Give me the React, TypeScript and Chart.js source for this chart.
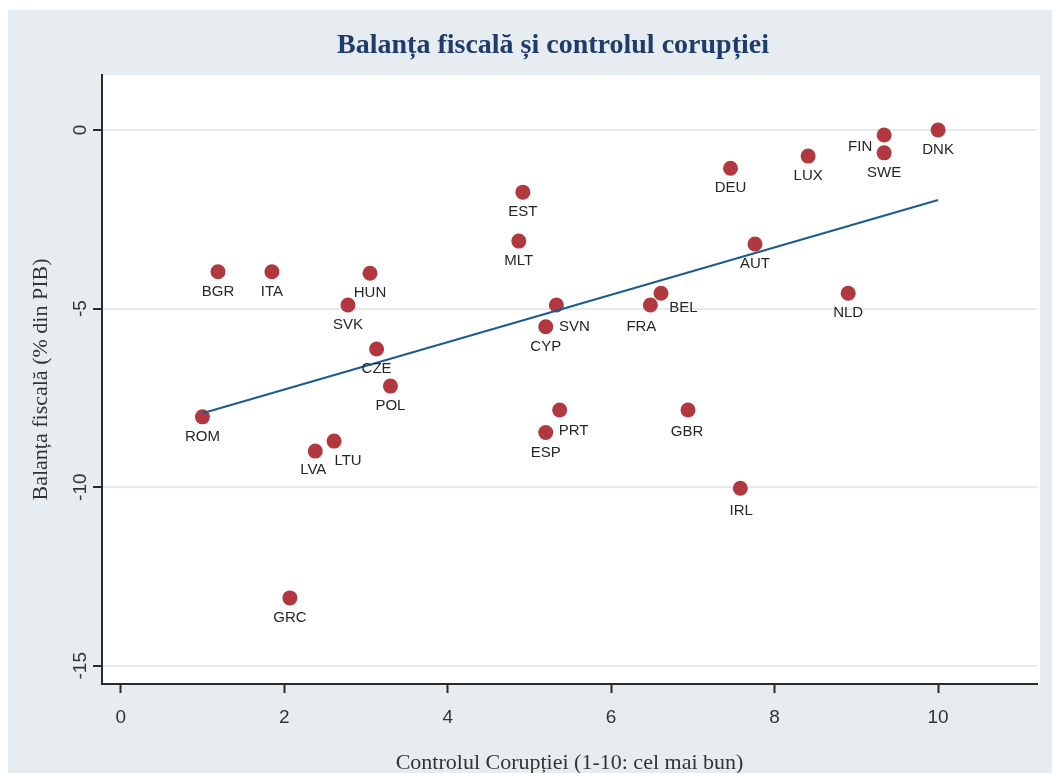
import React, { useEffect, useRef } from "react";
import { Chart, registerables } from "chart.js";

Chart.register(...registerables);

// ---- data ----
const countries = ["BGR", "ITA", "HUN", "SVK", "CZE", "POL", "ROM", "LVA", "LTU", "GRC", "EST", "MLT", "SVN", "CYP", "PRT", "ESP", "FRA", "BEL", "GBR", "IRL", "DEU", "AUT", "LUX", "NLD", "FIN", "SWE", "DNK"];
const corruptionControl = [1.19, 1.85, 3.05, 2.78, 3.13, 3.3, 1.0, 2.38, 2.61, 2.07, 4.92, 4.87, 5.33, 5.2, 5.37, 5.2, 6.48, 6.61, 6.94, 7.58, 7.46, 7.76, 8.41, 8.9, 9.34, 9.34, 10.0];
const fiscalBalance = [-3.97, -3.97, -4.01, -4.9, -6.13, -7.17, -8.03, -8.99, -8.71, -13.1, -1.74, -3.11, -4.9, -5.51, -7.84, -8.47, -4.9, -4.57, -7.84, -10.03, -1.07, -3.19, -0.73, -4.57, -0.14, -0.64, 0.0];
const fitX = [1.0, 10.0];
const fitY = [-7.93, -1.96];
const xTicks = [0, 2, 4, 6, 8, 10];
const yTicks = [0, -5, -10, -15];

const TITLE = "Balanța fiscală și controlul corupției";
const X_TITLE = "Controlul Corupției (1-10: cel mai bun)";
const Y_TITLE = "Balanța fiscală (% din PIB)";

// ---- label placement (style) ----
const DEFAULT_OFFSET: [number, number] = [0, 20];
const labelOffsets: Record<string, [number, number]> = {
  FIN: [-24, 11.5],
  BEL: [22.5, 15],
  SVN: [18, 21.5],
  FRA: [-9, 21.5],
  PRT: [14, 21],
  LTU: [14, 20],
  LVA: [-2, 19],
  IRL: [1, 23],
  GBR: [-1, 22],
};

const BG_GRAY = "#e7ecf0";
const AXIS_DARK = "#2a2a2a";

const plotBackground = {
  id: "plotBackground",
  beforeDraw(chart: any) {
    const { ctx, chartArea } = chart;
    ctx.save();
    ctx.fillStyle = "#ffffff";
    ctx.fillRect(chartArea.left, chartArea.top, chartArea.right - chartArea.left + 3, chartArea.bottom - chartArea.top);
    ctx.restore();
  },
};

const pointLabels = {
  id: "pointLabels",
  afterDatasetsDraw(chart: any) {
    const meta = chart.getDatasetMeta(0);
    const ctx = chart.ctx;
    ctx.save();
    ctx.font = '15px "Liberation Sans", Arial, sans-serif';
    ctx.fillStyle = "#262626";
    ctx.textAlign = "center";
    ctx.textBaseline = "middle";
    meta.data.forEach((el: any, i: number) => {
      const name = countries[i];
      const [dx, dy] = labelOffsets[name] || DEFAULT_OFFSET;
      ctx.fillText(name, el.x + dx, el.y + dy);
    });
    ctx.restore();
  },
};

export default function App() {
  const canvasRef = useRef<HTMLCanvasElement | null>(null);

  useEffect(() => {
    if (!canvasRef.current) return;
    const points = countries.map((_, i) => ({ x: corruptionControl[i], y: fiscalBalance[i] }));
    const fitPoints = fitX.map((x, i) => ({ x, y: fitY[i] }));

    const chart = new Chart(canvasRef.current, {
      type: "scatter",
      data: {
        datasets: [
          {
            type: "scatter",
            label: "Balanța fiscală",
            data: points,
            backgroundColor: "#b0383e",
            borderColor: "#b0383e",
            borderWidth: 0,
            pointRadius: 7.5,
            pointHoverRadius: 7.5,
            order: 1,
          },
          {
            type: "line",
            label: "Fitted values",
            data: fitPoints,
            borderColor: "#1b5b8e",
            borderWidth: 2,
            pointRadius: 0,
            fill: false,
            showLine: true,
            order: 0,
          } as any,
        ],
      },
      options: {
        animation: false,
        responsive: false,
        maintainAspectRatio: false,
        devicePixelRatio: 1,
        layout: { padding: 0 },
        plugins: {
          legend: { display: false },
          tooltip: { enabled: false },
          title: {
            display: true,
            text: TITLE,
            color: "#1f3d6c",
            font: { family: '"Liberation Serif", serif', size: 28, weight: "bold" },
            padding: { top: 19, bottom: 12.4 },
          },
        },
        scales: {
          x: {
            type: "linear",
            min: -0.229,
            max: 11.21,
            afterBuildTicks: (scale: any) => {
              scale.ticks = xTicks.map((v) => ({ value: v }));
            },
            afterFit: (scale: any) => {
              scale.height = 89;
              scale.paddingLeft = 0;
              scale.paddingRight = 61;
            },
            border: { display: true, color: AXIS_DARK, width: 2 },
            grid: {
              drawOnChartArea: false,
              drawTicks: true,
              tickLength: 9,
              tickColor: AXIS_DARK,
              tickWidth: 2,
            },
            ticks: {
              color: "#333333",
              font: { family: '"Liberation Sans", Arial, sans-serif', size: 19 },
              padding: 13,
              maxRotation: 0,
              minRotation: 0,
              callback: (v: any) => String(v),
            },
            title: {
              display: true,
              text: X_TITLE,
              color: "#333333",
              font: { family: '"Liberation Serif", serif', size: 22 },
              padding: { top: 0, bottom: -3 },
            },
          },
          y: {
            type: "linear",
            min: -15.51,
            max: 1.54,
            afterBuildTicks: (scale: any) => {
              scale.ticks = yTicks.map((v) => ({ value: v }));
            },
            afterFit: (scale: any) => {
              scale.width = 94;
              scale.paddingTop = 0;
              scale.paddingBottom = 0;
            },
            border: { display: true, color: AXIS_DARK, width: 2 },
            grid: {
              drawOnChartArea: true,
              color: "#e3eaf0",
              lineWidth: 2,
              drawTicks: true,
              tickLength: 9,
              tickColor: AXIS_DARK,
              tickWidth: 2,
            },
            ticks: {
              color: "#333333",
              font: { family: '"Liberation Sans", Arial, sans-serif', size: 19 },
              padding: -1,
              minRotation: 90,
              maxRotation: 90,
              crossAlign: "center",
              callback: (v: any) => String(v),
            },
            title: {
              display: true,
              text: Y_TITLE,
              color: "#333333",
              font: { family: '"Liberation Serif", serif', size: 22 },
              padding: { top: 20, bottom: 0 },
            },
          },
        },
      } as any,
      plugins: [plotBackground, pointLabels],
    });

    return () => chart.destroy();
  }, []);

  return (
    <div style={{ position: "absolute", left: 0, top: 0, width: 1052, height: 773, overflow: "hidden", background: "#ffffff" }}>
      <div style={{ position: "absolute", left: 8, top: 10, width: 1044, height: 763, background: BG_GRAY }} />
      <canvas
        ref={canvasRef}
        width={1090}
        height={763}
        style={{ position: "absolute", left: 8, top: 10, width: 1090, height: 763 }}
      />
    </div>
  );
}
